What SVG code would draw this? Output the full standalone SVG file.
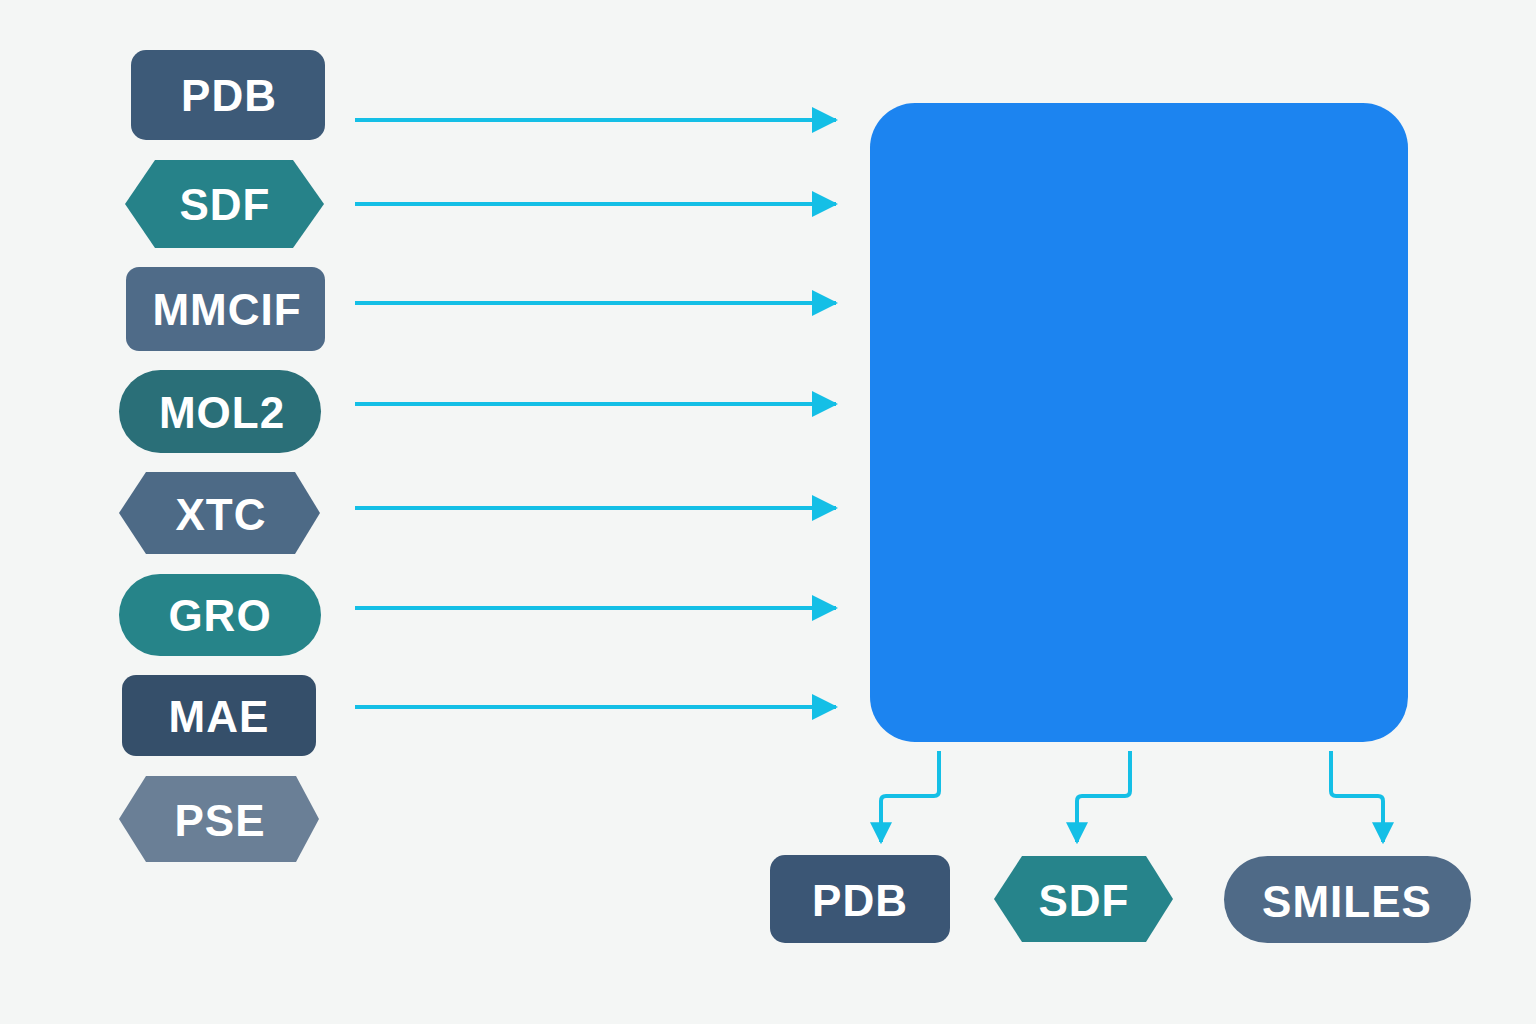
<svg xmlns="http://www.w3.org/2000/svg" width="1536" height="1024" viewBox="0 0 1536 1024">
<defs>
<style>
.lbl{font-family:"Liberation Sans",Arial,sans-serif;font-weight:bold;font-size:44px;fill:#ffffff;text-anchor:middle;letter-spacing:1px}
.ln{stroke:#14bfe6;stroke-width:4;fill:none;stroke-linejoin:round}
</style>
<marker id="ah" viewBox="0 0 26 26" refX="24" refY="13" markerWidth="26" markerHeight="26" markerUnits="userSpaceOnUse" orient="auto">
<path d="M0,0 L26,13 L0,26 Z" fill="#14bfe6"/>
</marker>
<marker id="ahs" viewBox="0 0 20 20" refX="18" refY="10" markerWidth="22" markerHeight="22" markerUnits="userSpaceOnUse" orient="auto">
<path d="M0,0 L20,10 L0,20 Z" fill="#14bfe6"/>
</marker>
</defs>
<rect width="1536" height="1024" fill="#f4f6f5"/>

<g id="connectors">
<line class="ln" x1="355" y1="120" x2="836" y2="120" marker-end="url(#ah)"/>
<line class="ln" x1="355" y1="204" x2="836" y2="204" marker-end="url(#ah)"/>
<line class="ln" x1="355" y1="303" x2="836" y2="303" marker-end="url(#ah)"/>
<line class="ln" x1="355" y1="404" x2="836" y2="404" marker-end="url(#ah)"/>
<line class="ln" x1="355" y1="508" x2="836" y2="508" marker-end="url(#ah)"/>
<line class="ln" x1="355" y1="608" x2="836" y2="608" marker-end="url(#ah)"/>
<line class="ln" x1="355" y1="707" x2="836" y2="707" marker-end="url(#ah)"/>
<path class="ln" d="M939,751 V791 Q939,796 934,796 H886 Q881,796 881,801 V842" marker-end="url(#ahs)"/>
<path class="ln" d="M1130,751 V791 Q1130,796 1125,796 H1082 Q1077,796 1077,801 V842" marker-end="url(#ahs)"/>
<path class="ln" d="M1331,751 V791 Q1331,796 1336,796 H1378 Q1383,796 1383,801 V842" marker-end="url(#ahs)"/>
</g>

<g id="hub">
<rect x="870" y="103" width="538" height="639" rx="45" fill="#1c84f0"/>
</g>

<g id="in-pdb"><rect x="131" y="50" width="194" height="90" rx="15" fill="#3d5a78"/><text class="lbl" x="229" y="111">PDB</text></g>
<g id="in-sdf"><polygon points="125,204 155,160 293,160 324,204 293,248 155,248" fill="#268289"/><text class="lbl" x="225" y="220">SDF</text></g>
<g id="in-mmcif"><rect x="126" y="267" width="199" height="84" rx="13" fill="#4f6b88"/><text class="lbl" x="227" y="325">MMCIF</text></g>
<g id="in-mol2"><rect x="119" y="370" width="202" height="83" rx="41.5" fill="#2a6f78"/><text class="lbl" x="222" y="428">MOL2</text></g>
<g id="in-xtc"><polygon points="119,513 146,472 295,472 320,513 295,554 146,554" fill="#4d6a86"/><text class="lbl" x="221" y="530">XTC</text></g>
<g id="in-gro"><rect x="119" y="574" width="202" height="82" rx="41" fill="#268489"/><text class="lbl" x="220" y="631">GRO</text></g>
<g id="in-mae"><rect x="122" y="675" width="194" height="81" rx="14" fill="#354f6a"/><text class="lbl" x="219" y="732">MAE</text></g>
<g id="in-pse"><polygon points="119,819 146,776 296,776 319,819 296,862 146,862" fill="#6a7f96"/><text class="lbl" x="220" y="836">PSE</text></g>

<g id="out-pdb"><rect x="770" y="855" width="180" height="88" rx="15" fill="#3b5675"/><text class="lbl" x="860" y="916">PDB</text></g>
<g id="out-sdf"><polygon points="994,899 1022,856 1146,856 1173,899 1146,942 1022,942" fill="#26848b"/><text class="lbl" x="1084" y="916">SDF</text></g>
<g id="out-smiles"><rect x="1224" y="856" width="247" height="87" rx="43.5" fill="#4f6a87"/><text class="lbl" x="1347" y="917">SMILES</text></g>
</svg>
